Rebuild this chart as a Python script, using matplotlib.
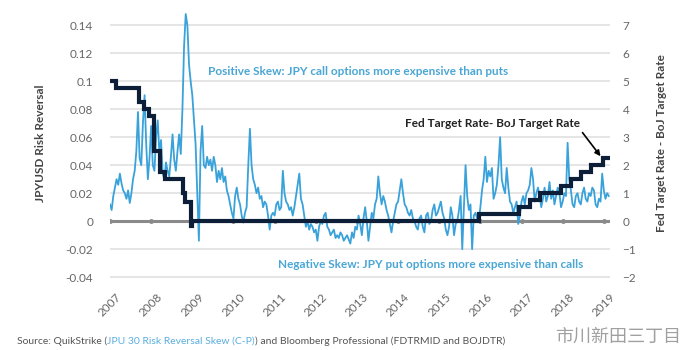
import numpy as np
import matplotlib
matplotlib.use("Agg")
import matplotlib.pyplot as plt

# JPYUSD 30-day risk reversal, sampled every 0.04 yr starting Jan 2007
rr_2007 = [0.012, 0.008, 0.018, 0.024, 0.030, 0.026, 0.034, 0.027, 0.022, 0.020, 0.016, 0.022, 0.013,
           0.020, 0.030, 0.036, 0.050, 0.078, 0.045, 0.040, 0.070, 0.090, 0.055, 0.030, 0.045]
rr_2008 = [0.068, 0.040, 0.036, 0.060, 0.072, 0.048, 0.058, 0.034, 0.030, 0.042, 0.036, 0.032, 0.046,
           0.062, 0.044, 0.036, 0.050, 0.062, 0.048, 0.080, 0.125, 0.148, 0.140, 0.112, 0.100]
rr_2009 = [0.090, 0.072, 0.055, 0.020, -0.014, 0.050, 0.068, 0.040, 0.038, 0.046, 0.040, 0.044, 0.036,
           0.046, 0.040, 0.028, 0.036, 0.030, 0.038, 0.028, 0.032, 0.022, 0.018, 0.012, 0.006]
rr_2010 = [0.002, 0.018, 0.024, 0.016, 0.012, 0.004, -0.001, 0.006, 0.010, 0.040, 0.066, 0.040, 0.030,
           0.026, 0.020, 0.024, 0.016, 0.018, 0.010, 0.014, 0.012, 0.004, -0.006, 0.004, 0.006]
rr_2011 = [0.004, 0.012, 0.014, 0.008, 0.010, 0.036, 0.020, 0.014, 0.012, 0.008, 0.010, 0.004, 0.010,
           0.018, 0.026, 0.034, 0.016, 0.012, 0.004, -0.004, 0.000, -0.006, -0.002, -0.004, -0.008]
rr_2012 = [-0.006, -0.014, -0.004, 0.000, -0.002, 0.004, 0.006, -0.004, -0.006, -0.010, -0.008, -0.006, -0.012,
           -0.010, -0.012, -0.008, -0.010, -0.014, -0.012, -0.010, -0.013, -0.016, -0.008, -0.012, -0.004]
rr_2013 = [-0.006, 0.004, -0.002, -0.010, 0.002, 0.010, 0.000, -0.014, -0.004, 0.006, 0.002, 0.012, 0.016,
           0.032, 0.020, 0.012, 0.018, 0.014, 0.008, 0.004, -0.002, -0.008, 0.000, 0.006, 0.012]
rr_2014 = [0.014, 0.022, 0.030, 0.020, 0.012, 0.010, 0.006, 0.004, 0.008, 0.002, 0.000, -0.004, -0.006,
           0.002, 0.004, -0.004, -0.008, 0.004, 0.006, -0.002, 0.000, 0.008, 0.012, 0.004, 0.006]
rr_2015 = [0.010, 0.014, 0.006, 0.002, -0.006, -0.010, -0.004, 0.010, 0.004, -0.010, -0.002, 0.000, 0.008,
           0.018, -0.020, 0.010, 0.040, 0.018, 0.008, 0.012, -0.020, 0.004, 0.006, 0.002, 0.000]
rr_2016 = [0.010, 0.022, 0.030, 0.046, 0.028, 0.036, 0.032, 0.038, 0.016, 0.020, 0.026, 0.040, 0.060,
           0.030, 0.024, 0.020, 0.038, 0.024, 0.014, 0.012, 0.006, 0.010, 0.014, -0.002, 0.004]
rr_2017 = [0.014, 0.018, 0.012, 0.020, 0.022, 0.026, 0.038, 0.030, 0.014, 0.020, 0.024, 0.018, 0.010,
           0.016, 0.024, 0.014, 0.018, 0.028, 0.016, 0.022, 0.012, 0.018, 0.024, 0.020, 0.010]
rr_2018 = [0.014, 0.020, 0.018, 0.056, 0.030, 0.022, 0.012, 0.010, 0.018, 0.020, 0.014, 0.012, 0.020,
           0.024, 0.016, 0.014, 0.020, 0.018, 0.024, 0.022, 0.012, 0.010, 0.016, 0.014, 0.034]
rr_2019 = [0.022, 0.016, 0.020, 0.018]

# Fed target rate minus BoJ target rate (step changes)
rate_dates = [2007.0, 2007.14, 2007.71, 2007.83, 2007.94, 2008.06, 2008.08, 2008.21, 2008.33,
              2008.77, 2008.83, 2008.96, 2008.99, 2015.96, 2016.95, 2017.2, 2017.45, 2017.95,
              2018.2, 2018.45, 2018.7, 2018.97]
rate_diff = [5.0, 4.75, 4.25, 4.0, 3.75, 3.0, 2.5, 1.75, 1.5,
             1.0, 0.7, -0.175, 0.025, 0.275, 0.525, 0.775, 1.025, 1.275,
             1.525, 1.775, 2.025, 2.275]
end_date = 2019.15

years = list(range(2007, 2020))
left_ticks = [-0.04, -0.02, 0, 0.02, 0.04, 0.06, 0.08, 0.1, 0.12, 0.14]
left_labels = ["-0.04", "-0.02", "0", "0.02", "0.04", "0.06", "0.08", "0.1", "0.12", "0.14"]
right_ticks = [-2, -1, 0, 1, 2, 3, 4, 5, 6, 7]

source_parts = ["Source: QuikStrike (", "JPU 30 Risk Reversal Skew (C-P)",
                ") and Bloomberg Professional (FDTRMID and BOJDTR)"]

rr = rr_2007 + rr_2008 + rr_2009 + rr_2010 + rr_2011 + rr_2012 + rr_2013 + \
     rr_2014 + rr_2015 + rr_2016 + rr_2017 + rr_2018 + rr_2019
t = 2007 + 0.04 * np.arange(len(rr))

plt.rcParams['font.family'] = ['Lato', 'DejaVu Sans']
BLUE = "#39a2da"
NAVY = "#0c1e38"
GREY = "#666666"

fig = plt.figure(figsize=(7, 3.5), dpi=100)
ax = fig.add_axes([110/700, 0.2, 500/700, 0.78])
ax2 = ax.twinx()

ax.set_xlim(2007, end_date)
ax.set_ylim(-0.042, 0.153)
ax2.set_ylim(-2.1, 7.65)

for y in left_ticks:
    if y != 0:
        ax.axhline(y, color="#e0e0e0", lw=1.2, zorder=0)
ax.axhline(0, color="#8a8a8a", lw=2.2, zorder=1)
ax.plot(years, [0] * len(years), ls="none", marker="o", ms=2.5, color="#8a8a8a", zorder=1)

ax.plot(t, rr, color=BLUE, lw=1.3, zorder=2)

ax2.step(rate_dates + [end_date], rate_diff + [rate_diff[-1]], where="post",
         color=NAVY, lw=3.0, solid_joinstyle="miter")

for a in (ax, ax2):
    for s in a.spines.values():
        s.set_visible(False)

ax.set_yticks(left_ticks)
ax.set_yticklabels(left_labels)
ax.tick_params(axis="y", length=0, pad=12, labelsize=8.5, labelcolor=GREY)
ax2.set_yticks(right_ticks)
ax2.tick_params(axis="y", length=0, pad=9, labelsize=8.5, labelcolor=GREY)

ax.set_xticks(years)
ax.set_xticklabels([str(y) for y in years], rotation=45, ha="center")
ax.tick_params(axis="x", length=0, pad=8, labelsize=8.5, labelcolor=GREY)

ax.set_ylabel("JPYUSD Risk Reversal", fontsize=8.5, fontweight="bold", color="#444444", labelpad=14)
ax2.set_ylabel("Fed Target Rate - BoJ Target Rate", fontsize=8.5, fontweight="bold", color="#444444", labelpad=14)

ax.text(2009.38, 0.107, "Positive Skew: JPY call options more expensive than puts",
        color="#4aa6d4", fontsize=8.5, fontweight="bold", va="center", ha="left")
ax.text(2011.08, -0.031, "Negative Skew: JPY put options more expensive than calls",
        color="#4aa6d4", fontsize=8.5, fontweight="bold", va="center", ha="left")
ax2.annotate("Fed Target Rate- BoJ Target Rate", xy=(2018.92, 2.32), xytext=(2018.41, 3.5),
             ha="right", va="center", fontsize=8.5, fontweight="bold", color="#222222",
             arrowprops=dict(arrowstyle="-|>", color="black", lw=1.2, relpos=(1, 0),
                             shrinkA=1, shrinkB=0, mutation_scale=8))

# source line, middle part in link blue
renderer = fig.canvas.get_renderer()
x_px = 17
for part, col in zip(source_parts, ["#555555", "#5aaee0", "#555555"]):
    txt = fig.text(x_px/700, 1 - 341/350, part, fontsize=7.5, color=col, va="center", ha="left")
    x_px += txt.get_window_extent(renderer).width

fig.text(555/700, 1 - 337/350, "市川新田三丁目", family=['Noto Sans CJK SC', 'DejaVu Sans'],
         fontsize=13, color="#a0a0a0", va="center", ha="left")

fig.savefig("out.png", dpi=100)
